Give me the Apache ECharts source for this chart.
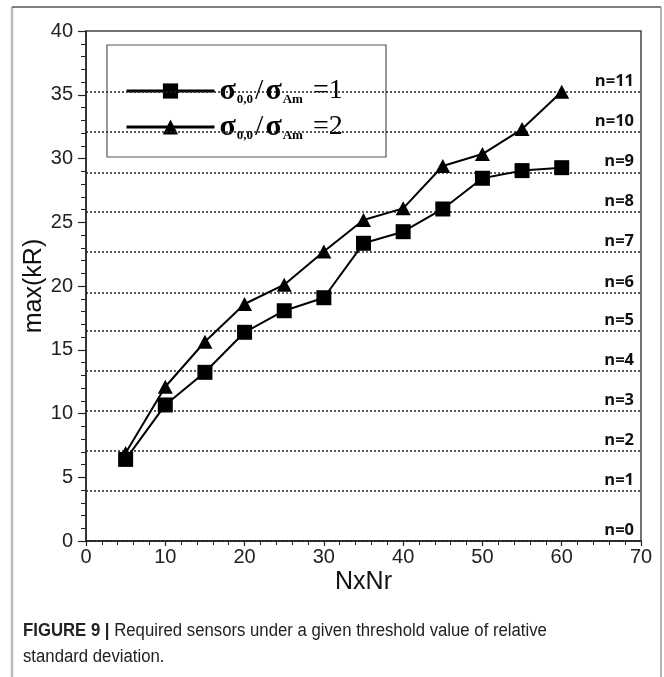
<!DOCTYPE html>
<html>
<head>
<meta charset="utf-8">
<script src="https://cdn.jsdelivr.net/npm/echarts@6/dist/echarts.min.js"></script>
<style>
  html, body { margin: 0; padding: 0; background: #fff; }
  #chart { width: 664px; height: 677px; }
</style>
</head>
<body>
<div id="chart"></div>
<script>
// Sensor grid size N x Nr
const sensorCounts = [5, 10, 15, 20, 25, 30, 35, 40, 45, 50, 55, 60];
// max(kR) for sigma_0,0 / sigma_Am = 1 (squares)
const ratioOneValues = [6.4, 10.67, 13.23, 16.37, 18.06, 19.08, 23.35, 24.26, 26.04, 28.45, 29.05, 29.28];
// max(kR) for sigma_0,0 / sigma_Am = 2 (triangles)
const ratioTwoValues = [6.9, 12.1, 15.63, 18.59, 20.1, 22.7, 25.18, 26.09, 29.41, 30.35, 32.31, 35.24];
// Threshold levels and their labels
const thresholdValues = [0, 3.93, 7.07, 10.21, 13.34, 16.49, 19.5, 22.72, 25.79, 28.92, 32.06, 35.2];
const thresholdLabels = ['n=0', 'n=1', 'n=2', 'n=3', 'n=4', 'n=5', 'n=6', 'n=7', 'n=8', 'n=9', 'n=10', 'n=11'];
// Legend ratio texts
const legendRatios = ['1', '2'];

const chart = echarts.init(document.getElementById('chart'), null, { renderer: 'canvas' });

const pairs = (ys) => sensorCounts.map((x, i) => [x, ys[i]]);

const tickFont = { fontFamily: 'Liberation Sans', fontSize: 20, color: '#222' };

const option = {
  animation: false,
  backgroundColor: '#fff',
  grid: {
    left: 86, right: 23, top: 31, bottom: 136,
    show: true, borderColor: '#444', borderWidth: 1.5, backgroundColor: 'transparent'
  },
  xAxis: {
    type: 'value', min: 0, max: 70, interval: 10,
    name: 'NxNr', nameLocation: 'middle', nameGap: 29, nameMoveOverlap: false,
    nameTextStyle: { fontFamily: 'Liberation Sans', fontSize: 25, color: '#111', verticalAlign: 'top' },
    axisLine: { show: true, onZero: false, lineStyle: { color: '#222', width: 1.5 } },
    axisTick: { show: true, inside: false, length: 5, lineStyle: { color: '#222', width: 1.2 } },
    minorTick: { show: true, splitNumber: 5, length: 4, lineStyle: { color: '#222', width: 1 } },
    axisLabel: Object.assign({ margin: 6 }, tickFont),
    splitLine: { show: false }
  },
  yAxis: {
    type: 'value', min: 0, max: 40, interval: 5,
    name: 'max(kR)', nameLocation: 'middle', nameGap: 39, nameRotate: 90, nameMoveOverlap: false,
    nameTextStyle: { fontFamily: 'Liberation Sans', fontSize: 25, color: '#111' },
    axisLine: { show: true, onZero: false, lineStyle: { color: '#222', width: 1.5 } },
    axisTick: { show: true, inside: false, length: 8, lineStyle: { color: '#222', width: 1.2 } },
    minorTick: { show: true, splitNumber: 5, length: 5, lineStyle: { color: '#222', width: 1 } },
    axisLabel: Object.assign({ margin: 13 }, tickFont),
    splitLine: { show: false }
  },
  legend: {
    left: 107, top: 76, orient: 'vertical',
    data: ['ratio1', 'ratio2'],
    itemWidth: 88, itemHeight: 19, itemGap: 6, itemTextGap: 6,
    padding: [0, 0, 0, 18],
    lineStyle: { width: 3, color: '#000' },
    formatter: (name) => {
      const r = name === 'ratio1' ? legendRatios[0] : legendRatios[1];
      return '{s|σ}{sub|0,0}{sl|/}{s|σ}{sub|Am}{eq|=' + r + '}';
    },
    textStyle: {
      rich: {
        s: { fontFamily: 'Liberation Serif', fontWeight: 'bold', fontSize: 30, color: '#000', lineHeight: 30 },
        sub: { fontFamily: 'Liberation Serif', fontWeight: 'bold', fontSize: 13, color: '#000', verticalAlign: 'bottom', lineHeight: 30, padding: [11, 0, 0, 1] },
        sl: { fontFamily: 'Liberation Serif', fontSize: 30, color: '#000', lineHeight: 30, padding: [0, 2, 0, 2] },
        eq: { fontFamily: 'Liberation Serif', fontSize: 28, color: '#000', lineHeight: 30, padding: [0, 0, 0, 10] }
      }
    }
  },
  graphic: [
    // outer figure frame
    { type: 'line', shape: { x1: 12, y1: 7, x2: 12, y2: 677 }, style: { stroke: '#bbb', lineWidth: 2.5 }, z: 100 },
    { type: 'line', shape: { x1: 12, y1: 7, x2: 661, y2: 7 }, style: { stroke: '#555', lineWidth: 1.5 }, z: 100 },
    { type: 'line', shape: { x1: 661, y1: 7, x2: 661, y2: 677 }, style: { stroke: '#999', lineWidth: 1.5 }, z: 100 },
    // legend box
    { type: 'rect', shape: { x: 107, y: 45, width: 279, height: 112 }, style: { fill: '#fff', stroke: '#555', lineWidth: 1.2 }, z: 1 },
    // caption
    {
      type: 'text', left: 23, top: 618, scaleX: 0.93,
      style: {
        text: '{b|FIGURE 9 |} Required sensors under a given threshold value of relative\nstandard deviation.',
        font: '18px "Liberation Sans"', fill: '#222', lineHeight: 26,
        rich: { b: { fontFamily: 'Liberation Sans', fontWeight: 'bold', fontSize: 18, fill: '#222' } }
      }
    }
  ],
  series: [
    {
      name: 'thresholds', type: 'line', data: [], z: 1,
      markLine: {
        silent: true, symbol: 'none',
        lineStyle: { type: [2, 2], color: '#222', width: 1.5 },
        label: {
          show: true, position: 'insideEndTop', formatter: '{b}', distance: [7, 2],
          fontFamily: 'Open Sans', fontWeight: 'bold', fontSize: 16.5, color: '#111'
        },
        data: thresholdValues.map((v, i) => ({ yAxis: v, name: thresholdLabels[i] }))
      }
    },
    {
      name: 'ratio1', type: 'line', data: pairs(ratioOneValues), z: 5,
      symbol: 'rect', symbolSize: 15, showAllSymbol: true,
      lineStyle: { color: '#000', width: 2 }, itemStyle: { color: '#000' }
    },
    {
      name: 'ratio2', type: 'line', data: pairs(ratioTwoValues), z: 5,
      symbol: 'triangle', symbolSize: [15, 14], showAllSymbol: true,
      lineStyle: { color: '#000', width: 2 }, itemStyle: { color: '#000' }
    }
  ]
};

chart.setOption(option);
</script>
</body>
</html>
